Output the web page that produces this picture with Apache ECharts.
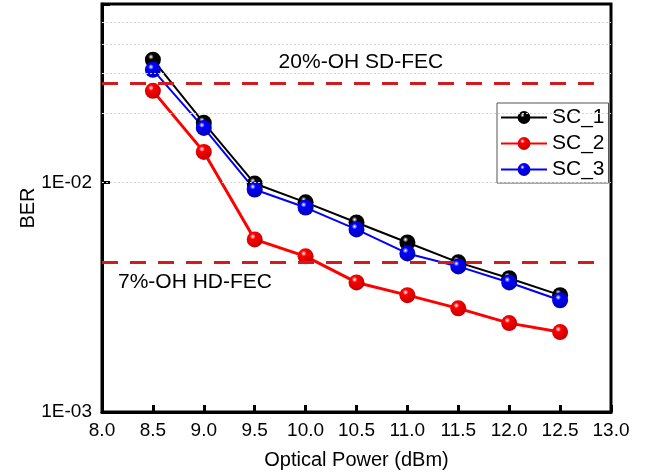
<!DOCTYPE html>
<html>
<head>
<meta charset="utf-8">
<script src="https://cdn.jsdelivr.net/npm/echarts@6/dist/echarts.min.js"></script>
<style>
  html, body { margin: 0; padding: 0; background: #fff; }
  #chart { width: 652px; height: 475px; }
</style>
</head>
<body>
<div id="chart"></div>
<script>
  // optical power (dBm)
  let power = [8.5, 9.0, 9.5, 10.0, 10.5, 11.0, 11.5, 12.0, 12.5]
  // BER per sub-carrier
  let sc1 = [0.0343, 0.0182, 0.0099, 0.0082, 0.0067, 0.00548, 0.00449, 0.00383, 0.00323]
  let sc2 = [0.0251, 0.0136, 0.00565, 0.00477, 0.00367, 0.00323, 0.00283, 0.00244, 0.00223]
  let sc3 = [0.0310, 0.0173, 0.00932, 0.00778, 0.00625, 0.00491, 0.00431, 0.00367, 0.00307]
  // FEC thresholds
  let fecNames = ['20%-OH SD-FEC', '7%-OH HD-FEC']
  let fecLevels = [0.027, 0.0045]
  let fecSpan = [8.0, 12.85]
  // minor grid values on the log axis
  let gridValues = [0.002, 0.003, 0.004, 0.005, 0.006, 0.007, 0.008, 0.009, 0.01, 0.02, 0.03, 0.04, 0.05]

  const font = "'Liberation Sans', Arial, sans-serif"

  function ball(base, dark) {
      return {
          type: 'radial', x: 0.38, y: 0.32, r: 0.7,
          colorStops: [
              { offset: 0, color: '#ffffff' },
              { offset: 0.25, color: base },
              { offset: 1, color: dark }
          ]
      }
  }

  function makeSeries(name, values, color, dark, width) {
      return {
          name: name,
          type: 'line',
          data: power.map((p, i) => [p, values[i]]),
          symbol: 'circle',
          symbolSize: 16,
          lineStyle: { color: color, width: width },
          itemStyle: { color: ball(color, dark) },
          z: 3
      }
  }

  let myChart = echarts.init(document.getElementById('chart'))

  let option = {
      animation: false,
      textStyle: { fontFamily: font },
      grid: {
          left: 102, right: 41, top: 4, bottom: 62,
          show: true, borderColor: '#000', borderWidth: 3
      },
      legend: {
          left: 497, top: 103,
          orient: 'vertical',
          itemWidth: 46, itemHeight: 16,
          itemGap: 5,
          padding: [4, 4, 3, 3],
          borderColor: '#555', borderWidth: 1,
          backgroundColor: '#fff',
          textStyle: { fontSize: 21, color: '#000', fontFamily: font },
          data: ['SC_1', 'SC_2', 'SC_3']
      },
      xAxis: {
          type: 'value',
          min: 8, max: 13, interval: 0.5,
          name: 'Optical Power (dBm)',
          nameLocation: 'middle',
          nameGap: 38,
          nameTextStyle: { fontSize: 20, color: '#000' },
          axisLine: { lineStyle: { color: '#000', width: 3 } },
          axisTick: { inside: true, length: 7, lineStyle: { width: 3, color: '#000' } },
          axisLabel: { fontSize: 19, color: '#000', margin: 9, formatter: v => v.toFixed(1) },
          splitLine: { show: false }
      },
      yAxis: {
          type: 'log',
          logBase: 10,
          min: 0.001, max: 0.06,
          name: 'BER',
          nameLocation: 'middle',
          nameGap: 64,
          nameMoveOverlap: false,
          nameTextStyle: { fontSize: 20, color: '#000' },
          axisLine: { lineStyle: { color: '#000', width: 3 } },
          axisTick: { inside: true, length: 8, lineStyle: { width: 3, color: '#000' } },
          axisLabel: {
              fontSize: 19, color: '#000', margin: 10,
              formatter: v => {
                  let e = Math.log10(v)
                  if (Math.abs(e - Math.round(e)) > 1e-6) return ''
                  return '1E-' + String(-Math.round(e)).padStart(2, '0')
              }
          },
          splitLine: { show: false }
      },
      series: [
          {
              name: 'grid',
              type: 'line',
              data: [],
              silent: true,
              z: 1,
              markLine: {
                  silent: true,
                  symbol: 'none',
                  label: { show: false },
                  lineStyle: { color: '#d4d4d4', type: [2, 2], width: 1 },
                  data: gridValues.map(v => ({ yAxis: v }))
              }
          },
          {
              name: 'fec',
              type: 'line',
              data: [],
              silent: true,
              z: 2,
              markLine: {
                  silent: true,
                  symbol: 'none',
                  lineStyle: { color: '#d01c1c', type: [16, 12], width: 3 },
                  label: { color: '#000', fontSize: 21, fontFamily: font },
                  data: [
                      [
                          { coord: [fecSpan[0], fecLevels[0]], label: { formatter: fecNames[0], position: 'insideMiddleTop', distance: 11, padding: [0, 0, 0, 24] } },
                          { coord: [fecSpan[1], fecLevels[0]] }
                      ],
                      [
                          { coord: [fecSpan[0], fecLevels[1]], label: { formatter: fecNames[1], position: 'insideStartBottom', distance: [16, 10] } },
                          { coord: [fecSpan[1], fecLevels[1]] }
                      ]
                  ]
              }
          },
          makeSeries('SC_1', sc1, '#000000', '#000000', 2),
          makeSeries('SC_2', sc2, '#ff0000', '#c00000', 3),
          makeSeries('SC_3', sc3, '#0000ff', '#0000b0', 2)
      ]
  }

  myChart.setOption(option, true)
</script>
</body>
</html>
